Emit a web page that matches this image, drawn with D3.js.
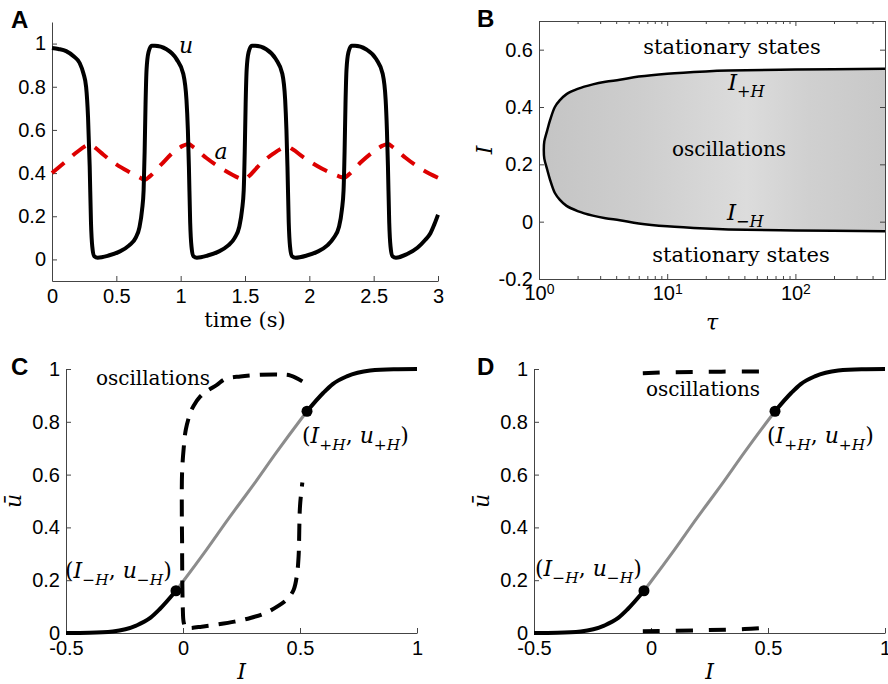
<!DOCTYPE html>
<meta charset="utf-8">
<style>
  body { margin: 0; background: #fff; }
  .tick text { font-family: "Liberation Sans", Arial, sans-serif; font-size: 20px; fill: #000; }
  .tick line, .domain { stroke: #444; }
  .serif { font-family: "DejaVu Serif", serif; fill: #000; }
  .letter { font-family: "Liberation Sans", Arial, sans-serif; font-weight: bold; font-size: 24px; }
</style>
<script src="https://d3js.org/d3.v7.min.js"></script>
<div id="chart"></div>
<script>
// ---- panel A : time course of u and a
var timeU = [0, 0.05, 0.11, 0.17, 0.215, 0.245, 0.265, 0.28, 0.293, 0.303, 0.313, 0.328, 0.355,
  0.44, 0.52, 0.6, 0.65, 0.68, 0.70, 0.712, 0.72, 0.727, 0.735, 0.75, 0.775, 0.80,
  0.89, 0.968, 1.02, 1.045, 1.056, 1.064, 1.074, 1.084, 1.099, 1.126,
  1.21, 1.29, 1.37, 1.42, 1.455, 1.477, 1.49, 1.498, 1.505, 1.513, 1.528, 1.553, 1.58,
  1.665, 1.74, 1.79, 1.812, 1.822, 1.83, 1.84, 1.85, 1.865, 1.892,
  1.98, 2.06, 2.14, 2.19, 2.23, 2.253, 2.266, 2.274, 2.281, 2.289, 2.304, 2.329, 2.355,
  2.44, 2.52, 2.57, 2.593, 2.603, 2.611, 2.621, 2.631, 2.646, 2.673,
  2.76, 2.84, 2.9, 2.94, 2.97, 3.0]
var valuesU = [0.98, 0.975, 0.965, 0.94, 0.91, 0.86, 0.80, 0.66, 0.43, 0.17, 0.06, 0.015, 0.008,
  0.018, 0.035, 0.065, 0.10, 0.15, 0.23, 0.32, 0.5, 0.72, 0.88, 0.96, 0.99, 0.99,
  0.974, 0.928, 0.86, 0.74, 0.6, 0.43, 0.17, 0.06, 0.015, 0.008,
  0.018, 0.035, 0.065, 0.10, 0.15, 0.23, 0.32, 0.5, 0.72, 0.88, 0.96, 0.99, 0.99,
  0.974, 0.928, 0.86, 0.74, 0.6, 0.43, 0.17, 0.06, 0.015, 0.008,
  0.018, 0.035, 0.065, 0.10, 0.15, 0.23, 0.32, 0.5, 0.72, 0.88, 0.96, 0.99, 0.99,
  0.974, 0.928, 0.86, 0.74, 0.6, 0.43, 0.17, 0.06, 0.015, 0.008,
  0.025, 0.054, 0.09, 0.12, 0.16, 0.207]
var timeA = [0, 0.1, 0.2, 0.26, 0.293, 0.33, 0.4, 0.5, 0.6, 0.68, 0.72, 0.76, 0.85, 0.95, 1.02, 1.06,
  1.1, 1.2, 1.35, 1.45, 1.49, 1.53, 1.6, 1.72, 1.79, 1.83, 1.87, 1.95, 2.1, 2.23, 2.27,
  2.31, 2.4, 2.5, 2.57, 2.61, 2.65, 2.75, 2.88, 3.0]
var valuesA = [0.40, 0.45, 0.50, 0.525, 0.535, 0.52, 0.485, 0.44, 0.405, 0.38, 0.368, 0.385, 0.44, 0.5, 0.527, 0.535,
  0.52, 0.47, 0.41, 0.378, 0.368, 0.385, 0.43, 0.49, 0.515, 0.522, 0.51, 0.475, 0.42, 0.385, 0.378,
  0.395, 0.45, 0.5, 0.527, 0.535, 0.52, 0.47, 0.415, 0.378]
var ticksAx = [0, 0.5, 1, 1.5, 2, 2.5, 3]
var ticksAy = [0, 0.2, 0.4, 0.6, 0.8, 1]

// ---- panel B : Hopf boundaries vs tau
var tauB = [1.09, 1.1, 1.16, 1.22, 1.33, 1.45, 1.64, 2.0, 2.63, 3.3, 4.27, 6, 10, 20, 30, 100, 500]
var iPlusH = [0.25, 0.28, 0.319, 0.354, 0.40, 0.423, 0.445, 0.463, 0.479, 0.488, 0.495, 0.506, 0.516, 0.524, 0.527, 0.531, 0.533]
var iMinusH = [0.25, 0.22, 0.181, 0.146, 0.10, 0.077, 0.055, 0.037, 0.021, 0.012, 0.005, -0.006, -0.016, -0.024, -0.027, -0.031, -0.033]
var ticksBx = [1, 10, 100]
var minorBx = [2, 3, 4, 5, 6, 7, 8, 9, 20, 30, 40, 50, 60, 70, 80, 90, 200, 300, 400, 500]
var ticksBy = [-0.2, 0, 0.2, 0.4, 0.6]

// ---- panels C, D : steady state u-bar vs I
var inputI = [-0.5, -0.4, -0.3, -0.2, -0.14, -0.1, -0.03, 0, 0.1, 0.2, 0.25, 0.3, 0.4, 0.5, 0.53, 0.6, 0.64, 0.7, 0.8, 0.9, 1.0]
var steadyU = [0, 0.001, 0.006, 0.028, 0.057, 0.09, 0.16, 0.195, 0.315, 0.44, 0.5, 0.56, 0.685, 0.805, 0.84, 0.91, 0.943, 0.972, 0.994, 0.999, 1.0]
var hopfI = [-0.03, 0.53]
var hopfU = [0.16, 0.84]
var oscCI = [0.51, 0.46, 0.416, 0.33, 0.245, 0.18, 0.145, 0.1, 0.074, 0.045, 0.031, 0.012, 0.003, -0.004, -0.005, -0.004,
  -0.003, -0.001, 0.003, 0.012, 0.031, 0.08, 0.145, 0.22, 0.288, 0.35, 0.402, 0.445, 0.473, 0.487, 0.494, 0.5, 0.51]
var oscCU = [0.953, 0.975, 0.979, 0.978, 0.972, 0.962, 0.94, 0.915, 0.896, 0.86, 0.833, 0.77, 0.70, 0.606, 0.45, 0.354,
  0.2, 0.1, 0.04, 0.02, 0.019, 0.024, 0.032, 0.043, 0.057, 0.075, 0.1, 0.128, 0.164, 0.22, 0.29, 0.48, 0.57]
var oscDtopI = [-0.035, 0.1, 0.3, 0.525]
var oscDtopU = [0.984, 0.988, 0.99, 0.991]
var oscDbotI = [-0.035, 0.2, 0.4, 0.52]
var oscDbotU = [0.007, 0.01, 0.015, 0.022]
var ticksCx = [-0.5, 0, 0.5, 1]
var ticksCy = [0, 0.2, 0.4, 0.6, 0.8, 1]

var svg = d3.select("#chart").append("svg")
  .attr("width", 888).attr("height", 684)

var fmt = function(d) { return String(d) }

function styleAxis(g) {
  g.select(".domain").attr("stroke", "#444")
  g.selectAll(".tick line").attr("stroke", "#444")
}

// text with italic parts and subscripts
function mathText(x, y, parts, fs, anchor) {
  var t = svg.append("text").attr("class", "serif")
    .attr("x", x).attr("y", y)
    .attr("text-anchor", anchor || "start")
    .style("font-size", fs + "px")
  var shift = fs * 0.3, down = false
  parts.forEach(function(p) {
    var sub = p[1].charAt(0) == "s"
    var ts = t.append("tspan").text(p[0])
    if (sub && !down) { ts.attr("dy", shift); down = true }
    else if (!sub && down) { ts.attr("dy", -shift); down = false }
    ts.style("font-size", (sub ? fs * 0.7 : fs) + "px")
      .style("font-style", p[1].slice(-1) == "i" ? "italic" : "normal")
  })
  return t
}

// y label turned to read bottom to top
function rotatedLabel(x, y, s) {
  svg.append("g").attr("transform", "translate(" + x + "," + y + ") rotate(-90)")
    .append("text").attr("class", "serif").attr("x", 0).attr("y", 0)
    .attr("text-anchor", "middle").attr("dy", "0.35em")
    .style("font-size", "22px").style("font-style", "italic").text(s)
}

function letter(x, y, s) {
  svg.append("text").attr("class", "letter").attr("x", x).attr("y", y).text(s)
}

// ================= A
var xA = d3.scaleLinear().domain([0, 3]).range([52, 438])
var yA = d3.scaleLinear().domain([-0.1, 1.1]).range([281, 22])

svg.append("g").attr("transform", "translate(0,281)")
  .call(d3.axisBottom(xA).tickValues(ticksAx).tickFormat(fmt).tickSizeInner(-5).tickSizeOuter(0).tickPadding(8))
  .call(styleAxis)
svg.append("g").attr("transform", "translate(52,0)")
  .call(d3.axisLeft(yA).tickValues(ticksAy).tickFormat(fmt).tickSizeInner(-5).tickSizeOuter(0).tickPadding(6))
  .call(styleAxis)

var lineA = d3.line().curve(d3.curveMonotoneX)
svg.append("path")
  .attr("d", lineA(timeA.map(function(t, i) { return [xA(t), yA(valuesA[i])] })))
  .attr("fill", "none").attr("stroke", "#dd0000").attr("stroke-width", 4)
  .attr("stroke-dasharray", "16,11")
svg.append("path")
  .attr("d", lineA(timeU.map(function(t, i) { return [xA(t), yA(valuesU[i])] })))
  .attr("fill", "none").attr("stroke", "#000").attr("stroke-width", 4)
  .attr("stroke-linejoin", "round")

mathText(186, 53, [["u", "i"]], 22, "middle")
mathText(221, 159, [["a", "i"]], 22, "middle")
svg.append("text").attr("class", "serif").attr("x", 245).attr("y", 327)
  .attr("text-anchor", "middle").style("font-size", "21px").text("time (s)")
letter(11, 28, "A")

// ================= B
var xB = d3.scaleLog().domain([1, 500]).range([539, 885])
var yB = d3.scaleLinear().domain([-0.2, 0.7]).range([279, 21])

var grad = svg.append("defs").append("linearGradient").attr("id", "gradB")
  .attr("gradientUnits", "userSpaceOnUse")
  .attr("x1", 539).attr("x2", 885).attr("y1", 0).attr("y2", 0)
grad.append("stop").attr("offset", 0).attr("stop-color", "#c4c4c4")
grad.append("stop").attr("offset", 0.3).attr("stop-color", "#cecece")
grad.append("stop").attr("offset", 0.6).attr("stop-color", "#dcdcdc")
grad.append("stop").attr("offset", 0.78).attr("stop-color", "#d0d0d0")
grad.append("stop").attr("offset", 1).attr("stop-color", "#c8c8c8")

var outline = []
for (var i = tauB.length - 1; i >= 0; i--) outline.push([xB(tauB[i]), yB(iMinusH[i])])
for (var j = 1; j < tauB.length; j++) outline.push([xB(tauB[j]), yB(iPlusH[j])])
var lineB = d3.line().curve(d3.curveCatmullRom.alpha(0.5))
svg.append("path").attr("d", lineB(outline) + "Z")
  .attr("fill", "url(#gradB)").attr("stroke", "none")
svg.append("path").attr("d", lineB(outline))
  .attr("fill", "none").attr("stroke", "#000").attr("stroke-width", 2.5)

svg.append("g").attr("transform", "translate(0,279)")
  .call(d3.axisBottom(xB).tickValues(ticksBx).tickFormat(function() { return "" }).tickSizeInner(-5).tickSizeOuter(0).tickPadding(7))
  .call(styleAxis)
  .selectAll(".tick text").each(function(d) {
    var t = d3.select(this)
    t.append("tspan").text("10")
    t.append("tspan").text(Math.round(Math.log10(d))).attr("dy", "-0.45em").style("font-size", "14px")
  })
svg.append("g").attr("transform", "translate(0,279)")
  .call(d3.axisBottom(xB).tickValues(minorBx).tickFormat(function() { return "" }).tickSizeInner(-3).tickSizeOuter(0))
  .call(styleAxis)
svg.append("g").attr("transform", "translate(0,21)")
  .call(d3.axisTop(xB).tickValues(ticksBx).tickFormat(function() { return "" }).tickSizeInner(-5).tickSizeOuter(0))
  .call(styleAxis)
svg.append("g").attr("transform", "translate(0,21)")
  .call(d3.axisTop(xB).tickValues(minorBx).tickFormat(function() { return "" }).tickSizeInner(-3).tickSizeOuter(0))
  .call(styleAxis)
svg.append("g").attr("transform", "translate(539,0)")
  .call(d3.axisLeft(yB).tickValues(ticksBy).tickFormat(fmt).tickSizeInner(-5).tickSizeOuter(0).tickPadding(6))
  .call(styleAxis)
svg.append("g").attr("transform", "translate(885,0)")
  .call(d3.axisRight(yB).tickValues(ticksBy).tickFormat(function() { return "" }).tickSizeInner(-5).tickSizeOuter(0))
  .call(styleAxis)

svg.append("text").attr("class", "serif").attr("x", 732).attr("y", 54)
  .attr("text-anchor", "middle").style("font-size", "21px").text("stationary states")
svg.append("text").attr("class", "serif").attr("x", 741).attr("y", 262)
  .attr("text-anchor", "middle").style("font-size", "21px").text("stationary states")
svg.append("text").attr("class", "serif").attr("x", 729).attr("y", 156)
  .attr("text-anchor", "middle").style("font-size", "20px").text("oscillations")
mathText(728, 90, [["I", "i"], ["+", "s"], ["H", "si"]], 23)
mathText(727, 220, [["I", "i"], ["\u2212", "s"], ["H", "si"]], 23)
rotatedLabel(484, 150, "I")
mathText(712, 330, [["\u03c4", "i"]], 22, "middle")
letter(477, 27, "B")

// ================= C and D
function steadyPanel(x0, x1, osc) {
  var x = d3.scaleLinear().domain([-0.5, 1]).range([x0, x1])
  var y = d3.scaleLinear().domain([0, 1]).range([633, 369])

  svg.append("g").attr("transform", "translate(0,633)")
    .call(d3.axisBottom(x).tickValues(ticksCx).tickFormat(fmt).tickSizeInner(-5).tickSizeOuter(0).tickPadding(8))
    .call(styleAxis)
  svg.append("g").attr("transform", "translate(" + x0 + ",0)")
    .call(d3.axisLeft(y).tickValues(ticksCy).tickFormat(fmt).tickSizeInner(-5).tickSizeOuter(0).tickPadding(6))
    .call(styleAxis)

  var line = d3.line().curve(d3.curveMonotoneX)
  var pts = inputI.map(function(v, i) { return [v, steadyU[i]] })
  var low = pts.filter(function(p) { return p[0] <= hopfI[0] })
  var mid = pts.filter(function(p) { return p[0] >= hopfI[0] && p[0] <= hopfI[1] })
  var high = pts.filter(function(p) { return p[0] >= hopfI[1] })
  var sc = function(p) { return [x(p[0]), y(p[1])] }
  svg.append("path").attr("d", line(mid.map(sc)))
    .attr("fill", "none").attr("stroke", "#8c8c8c").attr("stroke-width", 3)
  ;[low, high].forEach(function(seg) {
    svg.append("path").attr("d", line(seg.map(sc)))
      .attr("fill", "none").attr("stroke", "#000").attr("stroke-width", 4)
  })

  var dashed = d3.line().curve(d3.curveCatmullRom.alpha(0.5))
  osc.forEach(function(o) {
    svg.append("path").attr("d", dashed(o[0].map(function(v, i) { return [x(v), y(o[1][i])] })))
      .attr("fill", "none").attr("stroke", "#000").attr("stroke-width", 4)
      .attr("stroke-dasharray", o[2])
  })

  svg.selectAll(null).data(hopfI).enter().append("circle")
    .attr("cx", function(d) { return x(d) })
    .attr("cy", function(d, i) { return y(hopfU[i]) })
    .attr("r", 5.5).attr("fill", "#000")

  mathText(x(0.25), 679, [["I", "i"]], 22, "middle")
  rotatedLabel(x0 - 53, 501, "\u016b")
  return x
}

steadyPanel(66, 417, [[oscCI, oscCU, "17,10"]])
mathText(65, 578, [["(", "r"], ["I", "i"], ["\u2212", "s"], ["H", "si"], [", ", "r"], ["u", "i"], ["\u2212", "s"], ["H", "si"], [")", "r"]], 22)
mathText(302, 443, [["(", "r"], ["I", "i"], ["+", "s"], ["H", "si"], [", ", "r"], ["u", "i"], ["+", "s"], ["H", "si"], [")", "r"]], 22)
svg.append("text").attr("class", "serif").attr("x", 153).attr("y", 385)
  .attr("text-anchor", "middle").style("font-size", "20px").text("oscillations")
letter(11, 375, "C")

steadyPanel(534, 885, [[oscDtopI, oscDtopU, "17,16"], [oscDbotI, oscDbotU, "17,16"]])
mathText(535, 576, [["(", "r"], ["I", "i"], ["\u2212", "s"], ["H", "si"], [", ", "r"], ["u", "i"], ["\u2212", "s"], ["H", "si"], [")", "r"]], 22)
mathText(767, 443, [["(", "r"], ["I", "i"], ["+", "s"], ["H", "si"], [", ", "r"], ["u", "i"], ["+", "s"], ["H", "si"], [")", "r"]], 22)
svg.append("text").attr("class", "serif").attr("x", 703).attr("y", 396)
  .attr("text-anchor", "middle").style("font-size", "20px").text("oscillations")
letter(477, 375, "D")
</script>
